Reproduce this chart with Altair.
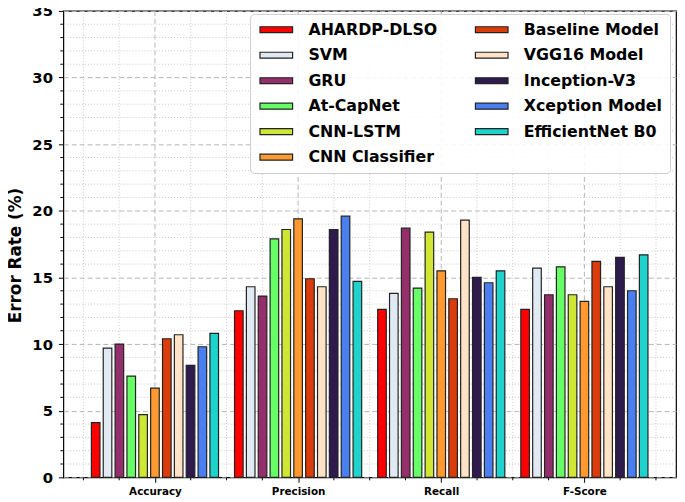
import altair as alt
import pandas as pd

metrics = ["Accuracy", "Precision", "Recall", "F-Score"]
models = ["AHARDP-DLSO", "SVM", "GRU", "At-CapNet", "CNN-LSTM", "CNN Classifier",
          "Baseline Model", "VGG16 Model", "Inception-V3", "Xception Model", "EfficientNet B0"]
colors = ["#ff0000", "#e1eaf3", "#952f6b", "#66ff66", "#cfe633", "#ff9a30",
          "#db3c0b", "#ffe3c6", "#2f1a4d", "#4a7ff0", "#1dd3cc"]
accuracy = [4.1, 9.7, 10.0, 7.6, 4.7, 6.7, 10.4, 10.7, 8.4, 9.8, 10.8]
precision = [12.5, 14.3, 13.6, 17.9, 18.6, 19.4, 14.9, 14.3, 18.6, 19.6, 14.7]
recall = [12.6, 13.8, 18.7, 14.2, 18.4, 15.5, 13.4, 19.3, 15.0, 14.6, 15.5]
fscore = [12.6, 15.7, 13.7, 15.8, 13.7, 13.2, 16.2, 14.3, 16.5, 14.0, 16.7]

y_major = [0, 5, 10, 15, 20, 25, 30, 35]
y_minor = [v for v in range(36) if v % 5 != 0]
x_major = [0, 1, 2, 3]
x_minor = [-0.5, -0.25, 0.25, 0.5, 0.75, 1.25, 1.5, 1.75, 2.25, 2.5, 2.75, 3.25, 3.5]

rows = []
for metric, vals in zip(metrics, [accuracy, precision, recall, fscore]):
    for m, v in zip(models, vals):
        rows.append({"Metric": metric, "Model": m, "Value": v})
df = pd.DataFrame(rows)

W, H = 620, 472
FONT = "DejaVu Sans"
xdom = alt.Scale(domain=[-0.64, 3.64], nice=False, zero=False)
yscale = alt.Scale(domain=[0, 35], nice=False, zero=True)
yaxis = alt.Axis(values=y_major, grid=True, gridDash=[5, 3], gridColor="#b5b5b5",
                 gridWidth=1, tickSize=5, tickColor="black", domain=False,
                 labelFont=FONT, labelFontSize=15, labelFontWeight="bold",
                 labelColor="black", labelPadding=6,
                 titleFont=FONT, titleFontSize=17, titleFontWeight="bold",
                 titleColor="black", titlePadding=7, titleY=247)
YT = "Error Rate (%)"

vminor = alt.Chart(pd.DataFrame({"gx": x_minor})).mark_rule(
    color="#c8c8c8", strokeDash=[1, 2], strokeWidth=1).encode(
    x=alt.X("gx:Q", scale=xdom, axis=None))

vmajor = alt.Chart(pd.DataFrame({"gx": x_major})).mark_rule(
    color="#b5b5b5", strokeDash=[5, 3], strokeWidth=1).encode(
    x=alt.X("gx:Q", scale=xdom, title=None,
            axis=alt.Axis(values=x_major, grid=False, tickSize=5, tickColor="black",
                          domain=False, labelFont=FONT, labelFontSize=10.5,
                          labelFontWeight="bold", labelColor="black", labelPadding=4,
                          labelExpr="['Accuracy','Precision','Recall','F-Score'][datum.value]")))

xticks = alt.Chart(pd.DataFrame({"gx": x_minor})).mark_rule(
    color="black", strokeWidth=1).encode(
    x=alt.X("gx:Q", scale=xdom, axis=None),
    y=alt.value(H), y2=alt.value(H + 3))

hminor = alt.Chart(pd.DataFrame({"Value": y_minor})).mark_rule(
    color="#c8c8c8", strokeDash=[1, 2], strokeWidth=1).encode(
    y=alt.Y("Value:Q", scale=yscale, axis=yaxis, title=YT))

yticks = alt.Chart(pd.DataFrame({"Value": y_minor})).mark_rule(
    color="black", strokeWidth=1).encode(
    y=alt.Y("Value:Q", scale=yscale, axis=yaxis, title=YT),
    x=alt.value(-3), x2=alt.value(0))

bars = alt.Chart(df).mark_bar(stroke="#222222", strokeWidth=1.2, opacity=1).encode(
    x=alt.X("Metric:N", sort=metrics,
            scale=alt.Scale(paddingInner=0, paddingOuter=0.14, align=0.5), axis=None),
    xOffset=alt.XOffset("Model:N", sort=models,
                        scale=alt.Scale(paddingInner=0.275, paddingOuter=0.675)),
    y=alt.Y("Value:Q", scale=yscale, axis=yaxis, title=YT),
    color=alt.Color("Model:N",
                    scale=alt.Scale(domain=models, range=colors),
                    legend=alt.Legend(
                        title=None, orient="none", legendX=189, legendY=3,
                        columns=2, columnPadding=35, rowPadding=9.8,
                        symbolType="M-1,-0.5H4.5V0.5H-1Z", symbolSize=144,
                        symbolStrokeColor="#222222", symbolStrokeWidth=1.2,
                        symbolOpacity=1, labelOffset=35,
                        labelFont=FONT, labelFontSize=16, labelFontWeight="bold",
                        labelColor="black", labelLimit=0,
                        padding=8, fillColor="rgba(255,255,255,0.88)",
                        strokeColor="#cccccc", cornerRadius=4)),
)

chart = alt.layer(vminor, vmajor, hminor, xticks, yticks, bars).resolve_scale(
    x="independent").properties(
    width=W, height=H, autosize=alt.AutoSizeParams(type="none"),
    padding={"left": 56, "top": 0, "right": 1, "bottom": 22},
    background="white").configure_view(stroke="black", strokeWidth=1.2)

chart.save("out.html", embed_options={"renderer": "svg", "actions": False})
